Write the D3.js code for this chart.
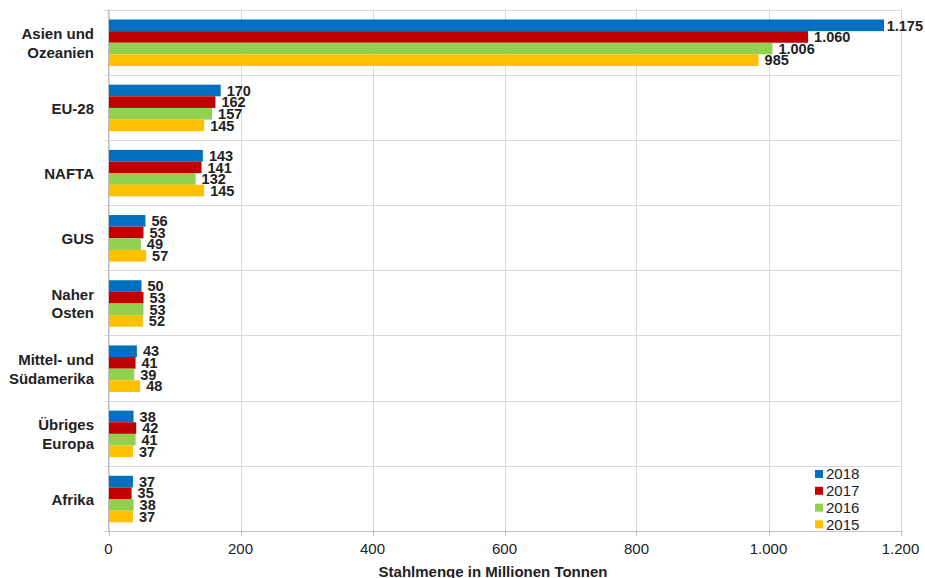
<!DOCTYPE html>
<html>
<head>
<meta charset="utf-8">
<script src="https://d3js.org/d3.v7.min.js"></script>
<style>
  body { margin: 0; padding: 0; background: #fff; }
  svg text { font-family: "Liberation Sans", Arial, sans-serif; fill: #222; }
</style>
</head>
<body>
<div id="svg_cont"></div>
<script>

// chart values
var regions = [["Asien und", "Ozeanien"], ["EU-28"], ["NAFTA"], ["GUS"],
               ["Naher", "Osten"], ["Mittel- und", "Südamerika"],
               ["Übriges", "Europa"], ["Afrika"]];
var years = ["2018", "2017", "2016", "2015"];
var v2018 = [1175, 170, 143, 56, 50, 43, 38, 37];
var v2017 = [1060, 162, 141, 53, 53, 41, 42, 35];
var v2016 = [1006, 157, 132, 49, 53, 39, 41, 38];
var v2015 = [985, 145, 145, 57, 52, 48, 37, 37];
var xTicks = [0, 200, 400, 600, 800, 1000, 1200];
var colors = ["#0070c0", "#c00000", "#92d050", "#ffc000"];

var series = [v2018, v2017, v2016, v2015];
var fmt = d3.formatLocale({decimal: ",", thousands: ".", grouping: [3]}).format(",");

var w = 925, h = 578;
var m = {top: 9.5, left: 108.5, right: 24.5, bottom: 47};

var svg = d3.select("#svg_cont").append("svg")
    .attr("width", w).attr("height", h);

var x = d3.scaleLinear().domain([0, 1200]).range([m.left, w - m.right]);
var y = d3.scaleBand().domain(d3.range(regions.length))
    .range([m.top, h - m.bottom]);

// bars sit a bit above the middle of each band
var innerTop = 10, innerH = 46.5;
var yInner = d3.scaleBand().domain(d3.range(years.length))
    .range([innerTop, innerTop + innerH]);

// vertical gridlines
svg.append("g").selectAll("line").data(xTicks).join("line")
    .attr("x1", d => Math.round(x(d)) + 0.5).attr("x2", d => Math.round(x(d)) + 0.5)
    .attr("y1", m.top).attr("y2", h - m.bottom)
    .attr("stroke", "#d9d9d9").attr("stroke-width", 1);

// horizontal separators
var bounds = d3.range(regions.length + 1).map(i => m.top + i * y.step());
svg.append("g").selectAll("line").data(bounds).join("line")
    .attr("x1", m.left - 5).attr("x2", w - m.right)
    .attr("y1", d => Math.round(d) + 0.5).attr("y2", d => Math.round(d) + 0.5)
    .attr("stroke", "#d9d9d9");

// bars
series.forEach(function(vals, s) {
  var g = svg.append("g");
  g.selectAll("rect").data(vals).join("rect")
      .attr("x", x(0))
      .attr("y", (d, i) => y(i) + yInner(s))
      .attr("width", d => x(d) - x(0))
      .attr("height", yInner.bandwidth())
      .attr("fill", colors[s]);
  g.selectAll("text").data(vals).join("text")
      .attr("x", d => x(d) + 6)
      .attr("y", (d, i) => y(i) + yInner(s) + yInner.bandwidth() / 2)
      .attr("dy", "0.36em")
      .attr("font-size", 14.5)
      .attr("font-weight", "bold")
      .text(d => fmt(d))
      .each(function(d) {
        // keep labels inside the picture, like the original does
        var len = this.getComputedTextLength();
        if (x(d) + 6 + len > w - 2) d3.select(this).attr("x", w - 2 - len);
      });
});

// axes lines
svg.append("line")
    .attr("x1", m.left).attr("x2", m.left)
    .attr("y1", m.top).attr("y2", h - m.bottom)
    .attr("stroke", "#bfbfbf");
svg.append("line")
    .attr("x1", m.left).attr("x2", w - m.right)
    .attr("y1", Math.round(h - m.bottom) + 0.5).attr("y2", Math.round(h - m.bottom) + 0.5)
    .attr("stroke", "#bfbfbf");
svg.append("g").selectAll("line").data(xTicks).join("line")
    .attr("x1", d => Math.round(x(d)) + 0.5).attr("x2", d => Math.round(x(d)) + 0.5)
    .attr("y1", h - m.bottom).attr("y2", h - m.bottom + 5)
    .attr("stroke", "#bfbfbf");

// x tick labels
svg.append("g").selectAll("text").data(xTicks).join("text")
    .attr("x", d => x(d))
    .attr("y", h - m.bottom + 23)
    .attr("text-anchor", "middle")
    .attr("font-size", 15)
    .text(d => fmt(d));

// category labels
regions.forEach(function(lines, i) {
  var cy = y(i) + y.bandwidth() / 2 + 1;
  var t = svg.append("text")
      .attr("text-anchor", "end")
      .attr("font-size", 15)
      .attr("font-weight", "bold");
  lines.forEach(function(l, k) {
    t.append("tspan")
        .attr("x", 94)
        .attr("y", cy + (k - (lines.length - 1) / 2) * 18.5)
        .attr("dy", "0.36em")
        .text(l);
  });
});

// axis title
svg.append("text")
    .attr("x", 493)
    .attr("y", 577)
    .attr("text-anchor", "middle")
    .attr("font-size", 15)
    .attr("font-weight", "bold")
    .text("Stahlmenge in Millionen Tonnen");

// legend
var leg = svg.append("g").attr("transform", "translate(815,474)");
years.forEach(function(yr, i) {
  leg.append("rect")
      .attr("x", 0).attr("y", i * 16.8 - 4)
      .attr("width", 8).attr("height", 8)
      .attr("fill", colors[i]);
  leg.append("text")
      .attr("x", 11).attr("y", i * 16.8)
      .attr("dy", "0.36em")
      .attr("font-size", 15)
      .text(yr);
});

</script>
</body>
</html>
